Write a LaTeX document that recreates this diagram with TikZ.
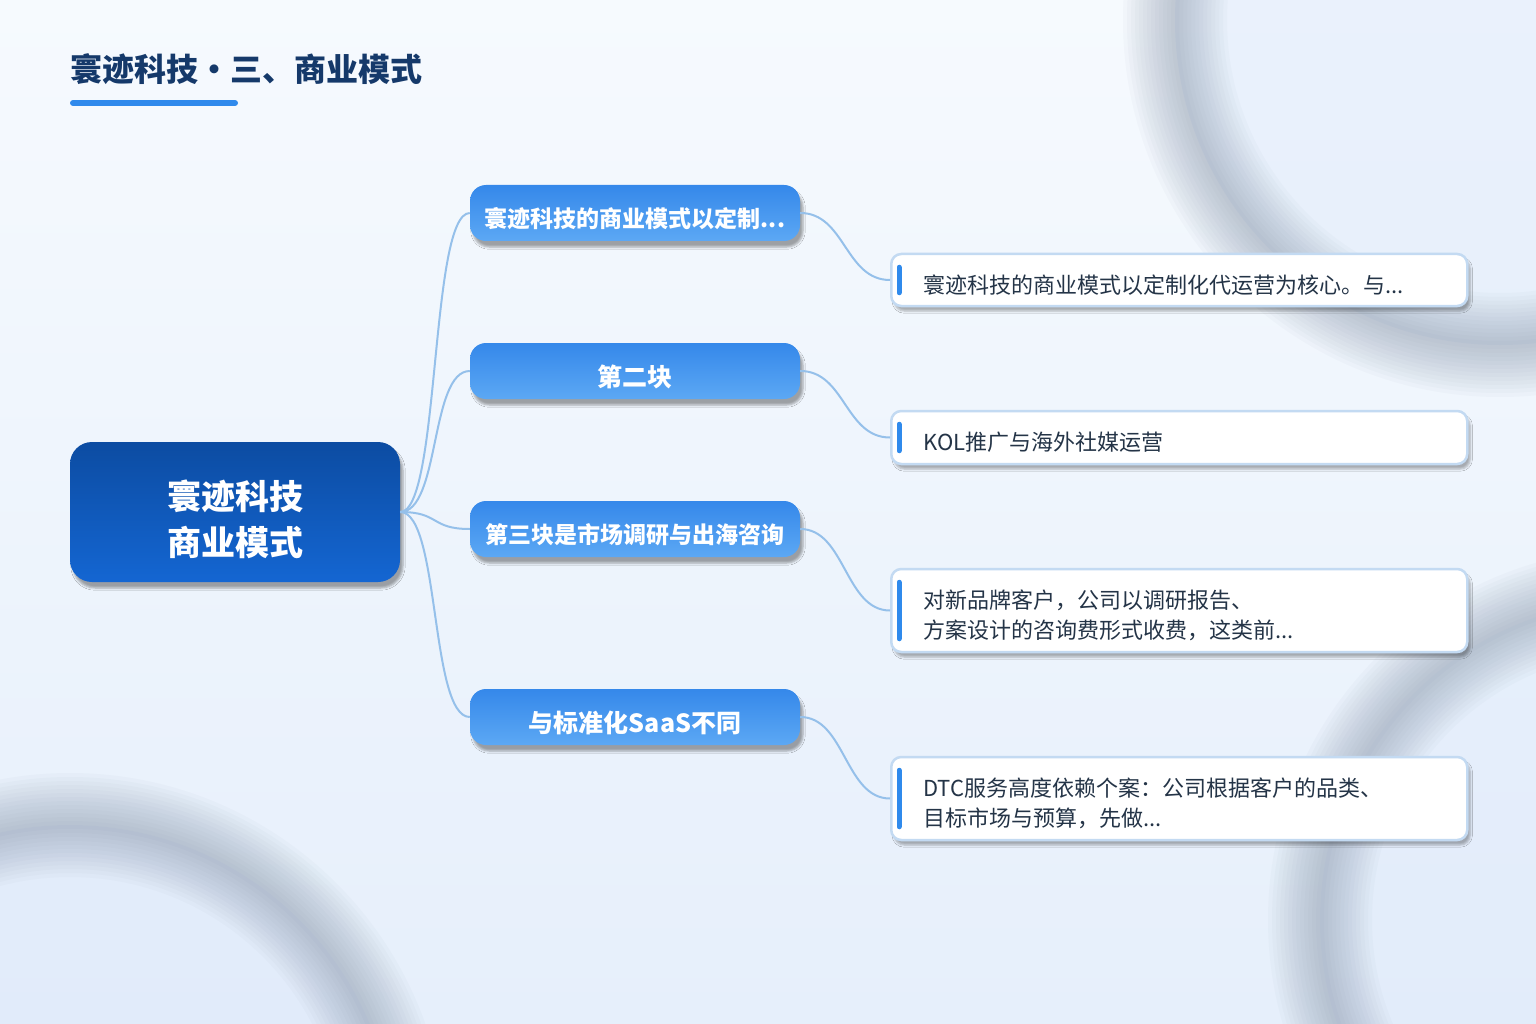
\documentclass[tikz,border=0pt]{standalone}
\usepackage{fontspec}
\setmainfont{Noto Sans CJK SC}
\usetikzlibrary{shadows.blur}
\definecolor{bgtop}{HTML}{F6FAFE}
\definecolor{bgbottom}{HTML}{E6EFFB}
\definecolor{ringgray}{HTML}{7C8BA2}
\definecolor{ringfill}{HTML}{DCE8FA}
\definecolor{titleblue}{HTML}{15396A}
\definecolor{accent}{HTML}{2F8AEC}
\definecolor{rootdark}{HTML}{0C4CA2}
\definecolor{rootlight}{HTML}{1466D2}
\definecolor{topicdark}{HTML}{3588EA}
\definecolor{topiclight}{HTML}{5CA8F4}
\definecolor{linkblue}{HTML}{95C0EA}
\definecolor{noteline}{HTML}{C3DAF2}
\definecolor{notetext}{HTML}{243447}
\newcommand{\droptext}[2]{\raisebox{0pt}[\dimexpr\height+#1\relax][\depth]{#2}}

\begin{document}
\begin{tikzpicture}[x=1pt,y=-1pt,
  ring/.style={draw=ringgray, opacity=0.038},
  link/.style={draw=linkblue, line width=2pt},
  rootbox/.style={rounded corners=22pt, top color=rootdark, bottom color=rootlight,
    minimum width=330pt, minimum height=140pt, text=white, inner sep=0pt,
    font=\fontsize{34}{46}\selectfont\bfseries,
    blur shadow={shadow xshift=3pt, shadow yshift=-6pt, shadow opacity=35}},
  topicbox/.style={rounded corners=16pt, top color=topicdark, bottom color=topiclight,
    minimum width=330pt, minimum height=56pt, text=white, inner sep=0pt,
    font=\fontsize{25}{30}\selectfont\bfseries,
    blur shadow={shadow xshift=3pt, shadow yshift=-6pt, shadow opacity=35}},
  notebox/.style={rounded corners=10pt, fill=white, draw=noteline, line width=2.5pt,
    anchor=west, inner xsep=32pt, inner ysep=0pt, text=notetext,
    font=\fontsize{22}{30}\selectfont,
    blur shadow={shadow xshift=3pt, shadow yshift=-5pt, shadow opacity=30}},
  notebar/.style={draw=accent, line width=5pt, line cap=round}]
\useasboundingbox (0,0) rectangle (1536,1024);
\shade[top color=bgtop, bottom color=bgbottom] (0,0) rectangle (1536,1024);
\begin{scope}
  \clip (0,0) rectangle (1536,1024);
  \fill[ringfill, opacity=0.45] (1500,20) circle (325);
  \fill[ringfill, opacity=0.45] (70,1150) circle (325);
  \fill[ringfill, opacity=0.35] (1640,920) circle (320);
  \foreach \w in {8,16,...,104} {
    \draw[ring, line width=\w pt] (1500,20) circle (325);
    \draw[ring, line width=\w pt] (70,1150) circle (325);
    \draw[ring, line width=\w pt] (1640,920) circle (320);
  }
\end{scope}

\node[anchor=west, inner sep=0pt, text=titleblue, font=\fontsize{32}{38}\selectfont\bfseries] (title) at (70,69) {寰迹科技・三、商业模式};
\draw[line width=6pt, line cap=round, draw=accent] (73,103) -- (235,103);

\node[rootbox] (root) at (235,512) {\droptext{14pt}{\parbox{300pt}{\centering 寰迹科技\\商业模式}}};
\node[topicbox, font=\fontsize{23}{30}\selectfont\bfseries] (t1) at (635,213) {\droptext{12pt}{寰迹科技的商业模式以定制...}};
\node[topicbox] (t2) at (635,371) {\droptext{12pt}{第二块}};
\node[topicbox, font=\fontsize{23}{30}\selectfont\bfseries] (t3) at (635,529) {\droptext{12pt}{第三块是市场调研与出海咨询}};
\node[topicbox] (t4) at (635,717) {\droptext{12pt}{与标准化SaaS不同}};

\node[notebox, minimum height=52pt] (n1) at (890,280) {\droptext{10pt}{\parbox{512pt}{\raggedright 寰迹科技的商业模式以定制化代运营为核心。与...}}};
\node[notebox, minimum height=53pt] (n2) at (890,437.5) {\droptext{10pt}{\parbox{512pt}{\raggedright KOL推广与海外社媒运营}}};
\node[notebox, minimum height=83pt] (n3) at (890,610.5) {\droptext{10pt}{\parbox{512pt}{\raggedright 对新品牌客户，公司以调研报告、\\方案设计的咨询费形式收费，这类前...}}};
\node[notebox, minimum height=83pt] (n4) at (890,798.5) {\droptext{10pt}{\parbox{512pt}{\raggedright DTC服务高度依赖个案：公司根据客户的品类、\\目标市场与预算，先做...}}};

\foreach \n in {n1,n2,n3,n4}
  \draw[notebar] ([xshift=9pt,yshift=-14.5pt]\n.north west) -- ([xshift=9pt,yshift=14.5pt]\n.south west);

\foreach \t in {t1,t2,t3,t4}
  \draw[link] (root.east) .. controls +(40,0) and +(-40,0) .. (\t.west);
\draw[link] (t1.east) .. controls +(45,0) and +(-45,0) .. (n1.west);
\draw[link] (t2.east) .. controls +(45,0) and +(-45,0) .. (n2.west);
\draw[link] (t3.east) .. controls +(45,0) and +(-45,0) .. (n3.west);
\draw[link] (t4.east) .. controls +(45,0) and +(-45,0) .. (n4.west);
\end{tikzpicture}
\end{document}
